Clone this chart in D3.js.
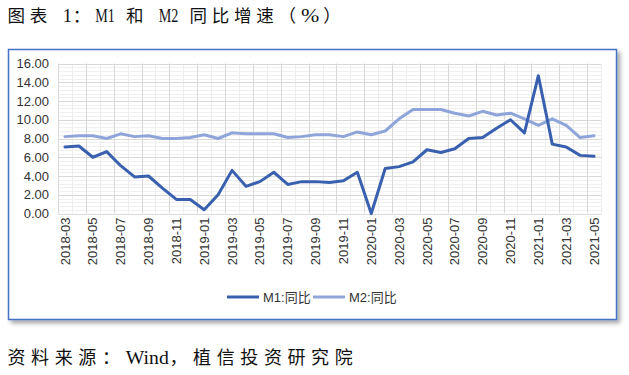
<!DOCTYPE html>
<html>
<head>
<meta charset="utf-8">
<script src="https://cdn.jsdelivr.net/npm/d3@7"></script>
<style>
  html, body { margin: 0; padding: 0; background: #fff; }
  svg { display: block; }
</style>
</head>
<body>
<svg id="chart" width="629" height="375"></svg>
<script>
const months = ["2018-03","2018-04","2018-05","2018-06","2018-07","2018-08","2018-09","2018-10","2018-11","2018-12",
  "2019-01","2019-02","2019-03","2019-04","2019-05","2019-06","2019-07","2019-08","2019-09","2019-10","2019-11","2019-12",
  "2020-01","2020-02","2020-03","2020-04","2020-05","2020-06","2020-07","2020-08","2020-09","2020-10","2020-11","2020-12",
  "2021-01","2021-02","2021-03","2021-04","2021-05"];
const m1 = [7.1,7.2,6.0,6.6,5.1,3.9,4.0,2.7,1.5,1.5,
  0.4,2.0,4.6,2.9,3.4,4.4,3.1,3.4,3.4,3.3,3.5,4.4,
  0.0,4.8,5.0,5.5,6.8,6.5,6.9,8.0,8.1,9.1,10.0,8.6,
  14.7,7.4,7.1,6.2,6.1];
const m2 = [8.2,8.3,8.3,8.0,8.5,8.2,8.3,8.0,8.0,8.1,
  8.4,8.0,8.6,8.5,8.5,8.5,8.1,8.2,8.4,8.4,8.2,8.7,
  8.4,8.8,10.1,11.1,11.1,11.1,10.7,10.4,10.9,10.5,10.7,10.1,
  9.4,10.1,9.4,8.1,8.3];
const yTicks = [0,2,4,6,8,10,12,14,16];
const seriesNames = ["M1:同比","M2:同比"];
const titleText = "图表 1：M1 和 M2 同比增速（%）";
const sourceText = "资料来源：Wind，植信投资研究院";

const svg = d3.select("#chart");
const colors = ["#3860AE", "#8FA5DA"];

const defs = svg.append("defs");
const f = defs.append("filter").attr("id","sh").attr("x","-5%").attr("y","-5%").attr("width","115%").attr("height","120%");
f.append("feDropShadow").attr("dx",3).attr("dy",3).attr("stdDeviation",2).attr("flood-color","#000").attr("flood-opacity",0.35);

// document-style text: CJK in full-width cells, Latin in half-width cells (serif, fitted)
function docText(str, x0, yb, size, full, half) {
  const t = svg.append("text").attr("y", yb).attr("font-size", size).attr("fill", "#111");
  const chars = Array.from(str);
  let cx = x0, i = 0;
  const kind = ch => ch === " " ? "s" : ch === "%" ? "p" : (ch.charCodeAt(0) > 0x2E80 ? "w" : "n");
  while (i < chars.length) {
    const k = kind(chars[i]);
    let j = i; while (j < chars.length && kind(chars[j]) === k) j++;
    const run = chars.slice(i, j);
    if (k === "w") {
      const xs = run.map((c, n) => (cx + n * full).toFixed(1));
      t.append("tspan").attr("x", xs.join(" ")).attr("font-family", "'Noto Sans CJK SC',sans-serif").text(run.join(""));
      cx += run.length * full;
    } else if (k === "n") {
      t.append("tspan").attr("x", cx + 0.3).attr("font-family", "'Liberation Serif',serif").attr("font-size", size + 1)
        .attr("textLength", run.length * half - 1).attr("lengthAdjust", "spacingAndGlyphs").text(run.join(""));
      cx += run.length * half;
    } else if (k === "p") {
      t.append("tspan").attr("x", cx).attr("font-family", "'Liberation Serif',serif").attr("font-size", size + 2)
        .attr("textLength", full - 4).attr("lengthAdjust", "spacingAndGlyphs").text(run.join(""));
      cx += run.length * full;
    } else {
      t.append("tspan").attr("x", cx).attr("font-family", "'Liberation Serif',serif").text(run.join(""));
      cx += run.length * half;
    }
    i = j;
  }
}
docText(titleText, 7.5, 22, 17.5, 22.3, 10.3);
docText(sourceText, 7.5, 363.5, 18, 23.6, 11);

svg.append("rect").attr("x",8.5).attr("y",49.5).attr("width",608).attr("height",270)
  .attr("fill","#fff").attr("stroke","#4472C4").attr("stroke-width",1.5).attr("filter","url(#sh)");

const pL = 58, pR = 601, pT = 63.5, pB = 213.5;
const x = d3.scaleBand().domain(months).range([pL, pR]).paddingInner(0).paddingOuter(0);
const y = d3.scaleLinear().domain([0,16]).range([pB, pT]);
const g = svg.append("g");

const minorY = d3.range(0, 16.0001, 0.4).filter(v => Math.abs(v/2 - Math.round(v/2)) > 1e-6);
g.selectAll(".hmin").data(minorY).join("line")
  .attr("x1",pL).attr("x2",pR).attr("y1",d=>Math.round(y(d))+0.5).attr("y2",d=>Math.round(y(d))+0.5)
  .attr("stroke","#F0F0F0").attr("stroke-width",1);
const bounds = d3.range(0, months.length + 1);
const bx = i => pL + i * x.bandwidth();
g.selectAll(".vmin").data(bounds.filter(i => i % 2 === 1)).join("line")
  .attr("x1",d=>Math.round(bx(d))+0.5).attr("x2",d=>Math.round(bx(d))+0.5).attr("y1",pT).attr("y2",pB)
  .attr("stroke","#EDEDED").attr("stroke-width",1);
g.selectAll(".vmaj").data(bounds.filter(i => i % 2 === 0)).join("line")
  .attr("x1",d=>Math.round(bx(d))+0.5).attr("x2",d=>Math.round(bx(d))+0.5).attr("y1",pT).attr("y2",pB)
  .attr("stroke","#D9D9D9").attr("stroke-width",1);
g.selectAll(".hmaj").data(yTicks).join("line")
  .attr("x1",pL).attr("x2",pR).attr("y1",d=>Math.round(y(d))+0.5).attr("y2",d=>Math.round(y(d))+0.5)
  .attr("stroke","#D9D9D9").attr("stroke-width",1);

const labelFont = "'Liberation Sans','Noto Sans CJK SC',sans-serif";
const yAxis = d3.axisLeft(y).tickValues(yTicks).tickFormat(d3.format(".2f")).tickSize(0).tickPadding(0);
const ya = svg.append("g").attr("transform",`translate(49,0)`).call(yAxis);
ya.select(".domain").remove();
ya.selectAll("text").attr("font-family",labelFont).attr("font-size",13).attr("fill","#333");

const shown = months.filter((m,i) => i % 2 === 0);
const xAxis = d3.axisBottom(x).tickValues(shown).tickSize(0).tickPadding(0);
const xa = svg.append("g").attr("transform",`translate(0,${pB})`).call(xAxis);
xa.select(".domain").remove();
xa.selectAll("text").attr("font-family",labelFont).attr("font-size",13).attr("fill","#333")
  .attr("text-anchor","end").attr("transform","rotate(-90)").attr("x",-4).attr("y",0).attr("dy","0.35em");

const line = d3.line().x((d,i)=>x(months[i]) + x.bandwidth()/2).y(d=>y(d));
[m2, m1].forEach((s, k) => {
  const idx = k === 0 ? 1 : 0;
  g.append("path").datum(s).attr("d",line).attr("fill","none")
    .attr("stroke",colors[idx]).attr("stroke-width",3).attr("stroke-linejoin","round").attr("stroke-linecap","round");
});

const legX = [227, 313];
seriesNames.forEach((n,i) => {
  svg.append("line").attr("x1",legX[i]).attr("x2",legX[i]+32).attr("y1",297).attr("y2",297)
    .attr("stroke",colors[i]).attr("stroke-width",3);
  svg.append("text").attr("x",legX[i]+36).attr("y",301.5).attr("font-family",labelFont).attr("font-size",13)
    .attr("fill","#333").text(n);
});
</script>
</body>
</html>
